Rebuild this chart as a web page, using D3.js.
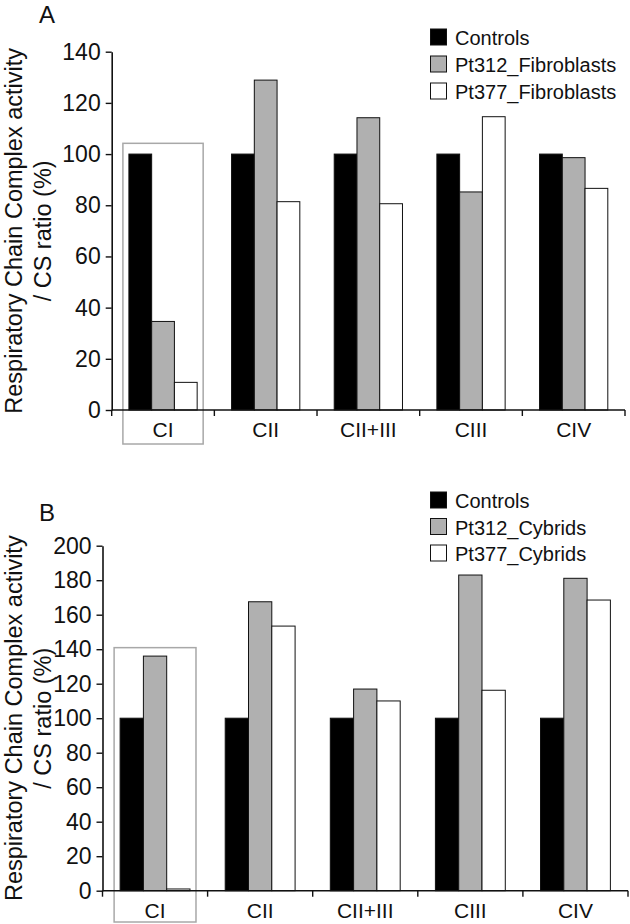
<!DOCTYPE html>
<html><head><meta charset="utf-8">
<script src="https://cdn.jsdelivr.net/npm/d3@7"></script>
<style>
html,body{margin:0;padding:0;background:#fff;}
svg{display:block;font-family:"Liberation Sans",Arial,Helvetica,sans-serif;}
</style></head>
<body>
<svg id="chart" width="630" height="924"></svg>
<script>
// ---- data ----
const categories = ["CI", "CII", "CII+III", "CIII", "CIV"];
const seriesA = ["Controls", "Pt312_Fibroblasts", "Pt377_Fibroblasts"];
const seriesB = ["Controls", "Pt312_Cybrids", "Pt377_Cybrids"];
const controlsA = [100, 100, 100, 100, 100];
const pt312A = [34.6, 128.9, 114.2, 85.2, 98.6];
const pt377A = [10.8, 81.4, 80.6, 114.6, 86.6];
const controlsB = [100, 100, 100, 100, 100];
const pt312B = [136, 167.5, 116.9, 183, 181.1];
const pt377B = [1, 153.4, 110, 116.2, 168.5];
const ticksA = [0, 20, 40, 60, 80, 100, 120, 140];
const ticksB = [0, 20, 40, 60, 80, 100, 120, 140, 160, 180, 200];
const yLabel1 = "Respiratory Chain Complex activity";
const yLabel2 = "/ CS ratio (%)";

const fills = ["#000000", "#b0b0b0", "#ffffff"];
const svg = d3.select("#chart");

function panel(cfg) {
  const g = svg.append("g");
  const x = d3.scaleBand().domain(categories).range([cfg.x0, cfg.x1]).padding(0);
  const inner = d3.scaleBand().domain(cfg.series).range([0, x.bandwidth()])
    .paddingInner(0).paddingOuter(0.756);
  const y = d3.scaleLinear().domain([0, cfg.max]).range([cfg.y0, cfg.yTop]);

  // highlight box around CI
  const bx0 = x("CI") + inner(cfg.series[0]) - 6;
  const bx1 = x("CI") + inner(cfg.series[2]) + inner.bandwidth() + 6;
  g.append("rect")
    .attr("x", bx0).attr("y", y(cfg.boxTop))
    .attr("width", bx1 - bx0).attr("height", cfg.boxBottom - y(cfg.boxTop))
    .attr("fill", "none").attr("stroke", "#a8a8a8").attr("stroke-width", 1.5);

  // bars
  const rows = [];
  categories.forEach((c, i) => {
    cfg.values.forEach((vals, s) => rows.push({c, s, name: cfg.series[s], v: vals[i]}));
  });
  g.selectAll("rect.bar").data(rows).join("rect").attr("class", "bar")
    .attr("x", d => x(d.c) + inner(d.name))
    .attr("y", d => y(d.v))
    .attr("width", inner.bandwidth())
    .attr("height", d => y(0) - y(d.v))
    .attr("fill", d => fills[d.s])
    .attr("stroke", "#111").attr("stroke-width", 1);

  // y axis
  const ya = g.append("g").attr("transform", `translate(${cfg.x0},0)`)
    .call(d3.axisLeft(y).tickValues(cfg.ticks).tickSize(6).tickSizeOuter(0).tickPadding(5).tickFormat(d3.format("d")));
  ya.select(".domain").attr("stroke", "#111").attr("stroke-width", 1.6);
  ya.selectAll(".tick line").attr("stroke", "#111").attr("stroke-width", 1.4);
  ya.selectAll(".tick text").attr("font-size", 23).attr("fill", "#111")
    .attr("font-family", "Liberation Sans, Arial, sans-serif");

  // x axis
  const xa = g.append("g").attr("transform", `translate(0,${cfg.y0})`);
  xa.append("line").attr("x1", cfg.x0).attr("x2", cfg.x1).attr("y1", 0).attr("y2", 0)
    .attr("stroke", "#111").attr("stroke-width", 1.6);
  const bounds = categories.map(c => x(c)).concat([cfg.x1]);
  xa.selectAll("line.tk").data(bounds).join("line").attr("class", "tk")
    .attr("x1", d => d).attr("x2", d => d).attr("y1", 0).attr("y2", 6)
    .attr("stroke", "#111").attr("stroke-width", 1.4);
  xa.selectAll("text").data(categories).join("text")
    .attr("x", d => x(d) + x.bandwidth() / 2).attr("y", cfg.labelDy)
    .attr("text-anchor", "middle").attr("font-size", 21).attr("fill", "#111")
    .text(d => d);

  // y label
  const cy = (cfg.y0 + cfg.yTop) / 2;
  g.append("text").attr("transform", `translate(22,${cy}) rotate(-90)`)
    .attr("text-anchor", "middle").attr("font-size", 23.5).attr("fill", "#111").text(yLabel1);
  g.append("text").attr("transform", `translate(51,${cy}) rotate(-90)`)
    .attr("text-anchor", "middle").attr("font-size", 23.5).attr("fill", "#111").text(yLabel2);

  // panel letter
  g.append("text").attr("x", 39).attr("y", cfg.letterY).attr("font-size", 24)
    .attr("fill", "#111").text(cfg.letter);

  // legend
  const lg = g.append("g");
  cfg.series.forEach((s, i) => {
    const yy = cfg.legendY + i * cfg.legendStep;
    lg.append("rect").attr("x", 430.5).attr("y", yy - 16).attr("width", 16).attr("height", 16)
      .attr("fill", fills[i]).attr("stroke", "#111").attr("stroke-width", 1);
    lg.append("text").attr("x", 455).attr("y", yy).attr("font-size", 20)
      .attr("fill", "#111").text(s);
  });
}

panel({
  series: seriesA, values: [controlsA, pt312A, pt377A], max: 140, ticks: ticksA,
  x0: 111.7, x1: 625, y0: 410, yTop: 51.7,
  boxTop: 104.2, boxBottom: 444, labelDy: 27,
  letter: "A", letterY: 23, legendY: 45, legendStep: 27
});
panel({
  series: seriesB, values: [controlsB, pt312B, pt377B], max: 200, ticks: ticksB,
  x0: 102.5, x1: 628, y0: 890.7, yTop: 545.7,
  boxTop: 140.9, boxBottom: 922, labelDy: 27,
  letter: "B", letterY: 521, legendY: 508, legendStep: 26.5
});
</script>
</body></html>
